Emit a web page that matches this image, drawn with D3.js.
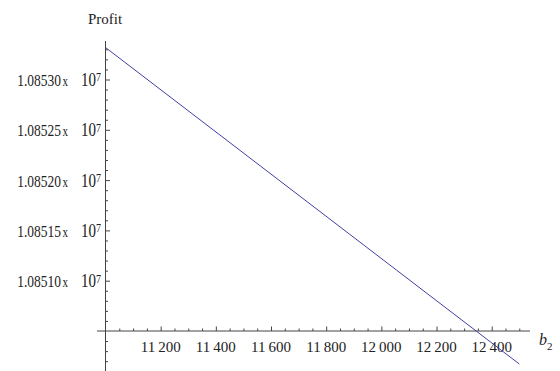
<!DOCTYPE html>
<meta charset="utf-8">
<script src="https://d3js.org/d3.v7.min.js"></script>
<style>
body { margin: 0; background: #fff; }
svg text { font-family: "Liberation Serif", "Times New Roman", serif; fill: #222; }
.axis path, .axis line { stroke: #444; }
</style>
<div id="chart"></div>
<script>
// data
var b2 = [11000, 12500];
var profit = [10853318, 10850172];
var xTicks = [11200, 11400, 11600, 11800, 12000, 12200, 12400];
var yTicks = [10851000, 10851500, 10852000, 10852500, 10853000];
var yLabels = ["1.08510", "1.08515", "1.08520", "1.08525", "1.08530"];

var width = 560, height = 371;

var svg = d3.select("#chart").append("svg")
  .attr("width", width)
  .attr("height", height);

var x = d3.scaleLinear().domain([11000, 12400]).range([105.5, 491.7]);
var y = d3.scaleLinear().domain([10850500, 10853000]).range([331, 79.5]);

var xMinor = d3.range(11050, 12501, 50).filter(function(v) { return v % 200 != 0; });
var yMinor = d3.range(10850100, 10853301, 100).filter(function(v) { return v % 500 != 0; });

// x axis (ticks point up, into the plot)
svg.append("line")
  .attr("x1", 97).attr("x2", 530)
  .attr("y1", y(10850500)).attr("y2", y(10850500))
  .attr("stroke", "#444");
svg.append("g").attr("class", "axis")
  .attr("transform", "translate(0," + y(10850500) + ")")
  .call(d3.axisTop(x).tickValues(xTicks).tickSize(4.5).tickFormat(""))
  .call(function(g) { g.select(".domain").remove(); });
svg.append("g").attr("class", "axis")
  .attr("transform", "translate(0," + y(10850500) + ")")
  .call(d3.axisTop(x).tickValues(xMinor).tickSize(2.5).tickFormat(""))
  .call(function(g) { g.select(".domain").remove(); });

// y axis (ticks point right)
svg.append("line")
  .attr("x1", x(11000)).attr("x2", x(11000))
  .attr("y1", 41).attr("y2", height)
  .attr("stroke", "#444");
svg.append("g").attr("class", "axis")
  .attr("transform", "translate(" + x(11000) + ",0)")
  .call(d3.axisRight(y).tickValues(yTicks).tickSize(4.5).tickFormat(""))
  .call(function(g) { g.select(".domain").remove(); });
svg.append("g").attr("class", "axis")
  .attr("transform", "translate(" + x(11000) + ",0)")
  .call(d3.axisRight(y).tickValues(yMinor).tickSize(2.5).tickFormat(""))
  .call(function(g) { g.select(".domain").remove(); });

// x tick labels
svg.selectAll(".xlab")
  .data(xTicks)
  .enter().append("text")
  .attr("x", function(d) { return x(d); })
  .attr("y", 352)
  .attr("text-anchor", "middle")
  .style("font-size", "15px")
  .text(function(d) { return String(d).slice(0, 2) + "\u2009" + String(d).slice(2); });

// y tick labels
var yl = svg.selectAll(".ylab")
  .data(yTicks)
  .enter().append("g")
  .attr("transform", function(d) { return "translate(101," + (y(d) + 6.5) + ") scale(1,1.3)"; })
  .append("text")
  .attr("text-anchor", "end")
  .style("font-size", "13.5px");
yl.append("tspan").text(function(d, i) { return yLabels[i]; });
yl.append("tspan").attr("dx", 1.5).style("font-size", "11px").text("x");
yl.append("tspan").attr("dx", 13).style("font-size", "15px").text("10");
yl.append("tspan").attr("dy", -3.5).style("font-size", "10px").text("7");

// axis titles
svg.append("text")
  .attr("x", 88).attr("y", 24)
  .style("font-size", "15px")
  .text("Profit");
var bt = svg.append("text")
  .attr("x", 539).attr("y", 345)
  .style("font-size", "16px")
  .style("font-style", "italic")
  .text("b");
bt.append("tspan").attr("dy", 5).style("font-size", "11px").style("font-style", "normal").text("2");

// the line
var line = d3.line()
  .x(function(d, i) { return x(b2[i]); })
  .y(function(d) { return y(d); });
svg.append("path")
  .datum(profit)
  .attr("d", line)
  .attr("fill", "none")
  .attr("stroke", "#4040a0")
  .attr("stroke-width", 1);
</script>
